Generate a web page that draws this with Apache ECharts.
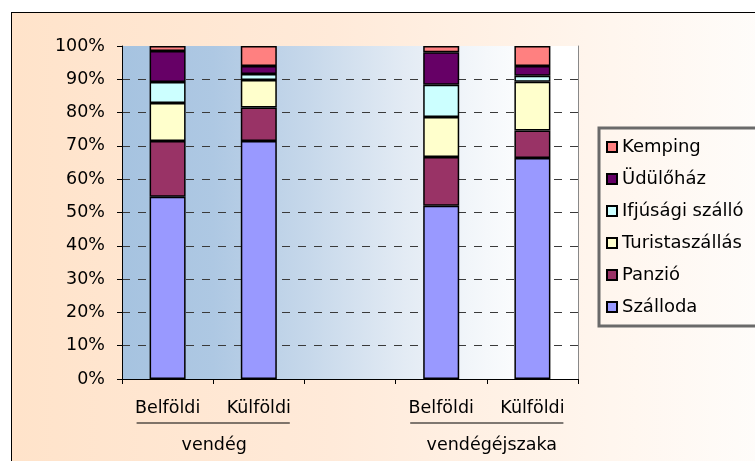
<!DOCTYPE html>
<html>
<head>
<meta charset="utf-8">
<script src="https://cdn.jsdelivr.net/npm/echarts@6/dist/echarts.min.js"></script>
<style>
html,body{margin:0;padding:0;background:#fff;overflow:hidden;}
#bg{position:absolute;left:11px;top:12px;width:800px;height:500px;border-left:1.5px solid #000;border-top:1.5px solid #000;
background:linear-gradient(to right,#FFE3CA 0%,#FFEAD9 40%,#FFF6EE 75%,#FEFEFE 100%);}
#chart{position:absolute;left:0;top:0;width:755px;height:461px;}
</style>
</head>
<body>
<div id="bg"></div>
<div id="chart"></div>
<script>
const categories = ['Belföldi', 'Külföldi', '', 'Belföldi', 'Külföldi'];
const groups = ['vendég', 'vendégéjszaka'];
const yTicks = [0, 10, 20, 30, 40, 50, 60, 70, 80, 90, 100];

const szalloda   = [54.7, 71.5, '-', 52.0, 66.4];
const panzio     = [16.8, 10.0, '-', 14.7, 8.2];
const turista    = [11.4, 8.3, '-', 12.0, 14.7];
const ifjusagi   = [6.3, 1.8, '-', 9.7, 1.8];
const udulohaz   = [9.3, 2.4, '-', 9.7, 2.9];
const kemping    = [1.5, 6.0, '-', 1.9, 6.0];

const names = ['Szálloda', 'Panzió', 'Turistaszállás', 'Ifjúsági szálló', 'Üdülőház', 'Kemping'];
const colors = ['#9999FF', '#993366', '#FFFFCC', '#CCFFFF', '#660066', '#FF8080'];
const values = [szalloda, panzio, turista, ifjusagi, udulohaz, kemping];

const FONT = 'DejaVu Sans';
const chart = echarts.init(document.getElementById('chart'));

const series = names.map((n, i) => ({
  name: n,
  type: 'bar',
  stack: 'total',
  barWidth: 36,
  data: values[i],
  itemStyle: { color: colors[i], borderColor: '#000', borderWidth: 1.5 }
}));

chart.setOption({
  backgroundColor: 'transparent',
  animation: false,
  textStyle: { fontFamily: FONT },
  grid: {
    left: 122, right: 177, top: 46, bottom: 82,
    show: true, borderWidth: 0,
    backgroundColor: new echarts.graphic.LinearGradient(0, 0, 1, 0, [
      { offset: 0, color: '#A6C3E0' },
      { offset: 0.2, color: '#AEC8E3' },
      { offset: 0.4, color: '#C5D7EA' },
      { offset: 0.62, color: '#E3EBF4' },
      { offset: 0.8, color: '#F5F8FB' },
      { offset: 0.92, color: '#FFFFFF' },
      { offset: 1, color: '#FFFFFF' }
    ])
  },
  legend: {
    orient: 'vertical',
    left: 599, top: 128,
    data: names.slice().reverse(),
    icon: 'rect',
    itemWidth: 10, itemHeight: 10,
    itemGap: 14,
    padding: [10, 60, 10, 7],
    borderColor: '#6a6a6a', borderWidth: 3,
    textStyle: { fontFamily: FONT, fontSize: 18, color: '#000', lineHeight: 18 }
  },
  xAxis: {
    type: 'category',
    data: categories,
    boundaryGap: true,
    axisLine: { lineStyle: { color: '#000', width: 1 } },
    axisTick: { show: true, length: 5, lineStyle: { color: '#000' }, interval: 0 },
    axisLabel: { color: '#000', fontFamily: FONT, fontSize: 17.5, margin: 20, interval: 0 }
  },
  yAxis: [{
    type: 'value',
    min: 0, max: 100, interval: 10,
    axisLine: { show: true, lineStyle: { color: '#000', width: 1 } },
    axisTick: { show: true, length: 5, lineStyle: { color: '#000' } },
    axisLabel: { color: '#000', fontFamily: FONT, fontSize: 17.5, margin: 17, formatter: '{value}%' },
    splitLine: { show: true, showMinLine: false, showMaxLine: false, lineStyle: { color: '#3a3a3a', type: [8, 8], width: 1 } }
  }, {
    type: 'value', position: 'right',
    min: 0, max: 100, interval: 10,
    axisLine: { show: true, lineStyle: { color: '#888', width: 1 } },
    axisTick: { show: false }, axisLabel: { show: false }, splitLine: { show: false }
  }],
  series: series
});

function drawGroups() {
  const graphics = [];
  const pairs = [[0, 1], [3, 4]];
  const yAxisPx = chart.convertToPixel({ yAxisIndex: 0 }, 0);
  pairs.forEach((p, gi) => {
    const x1 = chart.convertToPixel({ xAxisIndex: 0 }, p[0]);
    const x2 = chart.convertToPixel({ xAxisIndex: 0 }, p[1]);
    graphics.push({
      type: 'line',
      shape: { x1: x1 - 31, y1: yAxisPx + 44, x2: x2 + 31, y2: yAxisPx + 44 },
      style: { stroke: '#000', lineWidth: 1.2 }
    });
    graphics.push({
      type: 'text',
      x: (x1 + x2) / 2 + (gi === 1 ? 5 : 1),
      y: yAxisPx + 66,
      style: { text: groups[gi], fill: '#000', font: '17.5px "' + FONT + '"', align: 'center', verticalAlign: 'middle' }
    });
  });
  chart.setOption({ graphic: graphics });
}
drawGroups();
</script>
</body>
</html>
